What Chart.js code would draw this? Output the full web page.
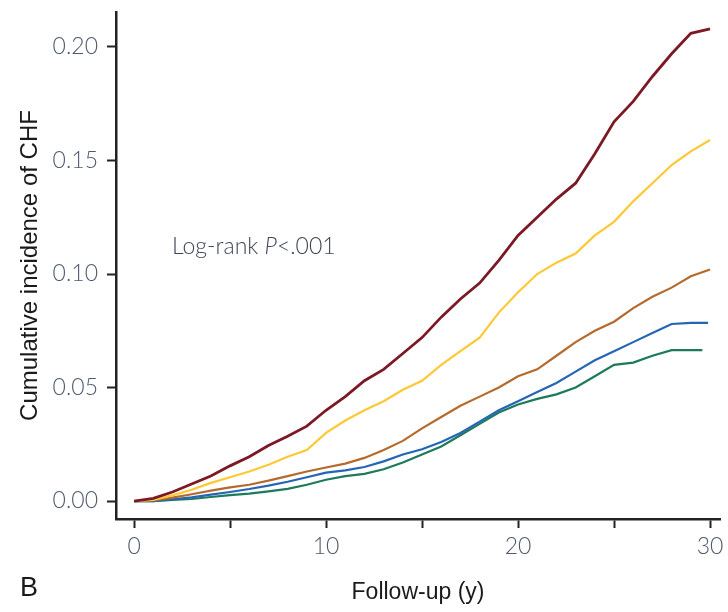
<!DOCTYPE html>
<html>
<head>
<meta charset="utf-8">
<script src="https://cdn.jsdelivr.net/npm/chart.js@4"></script>
<style>
  html, body { margin: 0; padding: 0; background: #fff; }
  #wrap { width: 728px; height: 612px; }
</style>
</head>
<body>
<div id="wrap"><canvas id="chf"></canvas></div>
<script>
// --- data ---
const years = [0,1,2,3,4,5,6,7,8,9,10,11,12,13,14,15,16,17,18,19,20,21,22,23,24,25,26,27,28,29,30];
const yearsBlue = [0,1,2,3,4,5,6,7,8,9,10,11,12,13,14,15,16,17,18,19,20,21,22,23,24,25,26,27,28,29,29.9];
const yearsGreen = [0,1,2,3,4,5,6,7,8,9,10,11,12,13,14,15,16,17,18,19,20,21,22,23,24,25,26,27,28,29,29.6];

const redVals = [0,0.0012,0.004,0.0075,0.011,0.0155,0.0195,0.0245,0.0285,0.033,0.040,0.046,0.053,0.058,0.065,0.072,0.081,0.089,0.096,0.106,0.117,0.125,0.133,0.140,0.153,0.167,0.176,0.187,0.197,0.206,0.208];
const yellowVals = [0,0.0005,0.0025,0.005,0.008,0.0105,0.013,0.016,0.0195,0.0225,0.030,0.0355,0.040,0.044,0.049,0.053,0.060,0.066,0.072,0.083,0.092,0.100,0.105,0.109,0.117,0.123,0.132,0.140,0.148,0.154,0.159];
const brownVals = [0,0.0003,0.0015,0.003,0.0046,0.006,0.0072,0.009,0.011,0.013,0.0148,0.0165,0.019,0.0225,0.0265,0.032,0.037,0.042,0.046,0.050,0.055,0.058,0.064,0.070,0.075,0.079,0.085,0.090,0.094,0.099,0.102];
const blueVals = [0,0,0.0008,0.0016,0.0028,0.004,0.0053,0.0068,0.0085,0.0105,0.0125,0.0135,0.015,0.0175,0.0205,0.0228,0.026,0.030,0.035,0.040,0.044,0.048,0.052,0.057,0.062,0.066,0.070,0.074,0.078,0.0785,0.0785];
const greenVals = [0,0,0.0005,0.0009,0.0018,0.0026,0.0033,0.0043,0.0054,0.0072,0.0094,0.011,0.012,0.014,0.017,0.0205,0.024,0.029,0.034,0.039,0.0425,0.045,0.047,0.050,0.055,0.060,0.061,0.064,0.0665,0.0665,0.0665];

const xTicks = [0,5,10,15,20,25,30];
const yTicks = [0,0.05,0.10,0.15,0.20];

const TICK_COLOR = '#4f5a6e';
const AXIS_COLOR = '#222222';

function pts(xs, ys) {
    return xs.map((x, i) => ({ x: x, y: ys[i] }));
}

function series(xs, ys, color, width) {
    return {
        data: pts(xs, ys),
        borderColor: color,
        borderWidth: width,
        pointRadius: 0,
        tension: 0,
        fill: false
    };
}

// 注記テキストと "B" ラベル
const notes = {
    id: 'notes',
    afterDraw(chart) {
        const c = chart.ctx;
        const xs = chart.scales.x, ys = chart.scales.y;
        c.save();
        c.fillStyle = '#3d4656';
        c.textBaseline = 'middle';
        c.textAlign = 'left';
        let px = xs.getPixelForValue(1.98);
        const py = ys.getPixelForValue(0.112);
        const parts = [['Log-rank ', 'normal'], ['P', 'italic'], ['<.001', 'normal']];
        parts.forEach(([t, st]) => {
            c.font = st + ' 300 23px Lato, "Open Sans", sans-serif';
            c.fillText(t, px, py);
            px += c.measureText(t).width;
        });
        c.fillStyle = '#1a1a1a';
        c.font = 'normal 27px "Liberation Sans", Arial, sans-serif';
        c.fillText('B', 20, 589);
        c.restore();
    }
};

new Chart(document.getElementById('chf'), {
    type: 'line',
    data: {
        datasets: [
            series(years, redVals, '#7b1a24', 2.8),
            series(years, yellowVals, '#fcc934', 2.2),
            series(years, brownVals, '#b56a2c', 2.2),
            series(yearsBlue, blueVals, '#2465b5', 2.2),
            series(yearsGreen, greenVals, '#1d7a5a', 2.2)
        ]
    },
    options: {
        responsive: true,
        maintainAspectRatio: false,
        animation: false,
        layout: { padding: { top: 12, right: 8, left: 0, bottom: 0 } },
        plugins: {
            legend: { display: false },
            tooltip: { enabled: false }
        },
        scales: {
            x: {
                type: 'linear',
                min: -0.94,
                max: 30.52,
                afterBuildTicks: s => { s.ticks = xTicks.map(v => ({ value: v })); },
                afterFit: s => { s.height = 93; s.paddingLeft = 0; s.paddingRight = 0; },
                ticks: {
                    autoSkip: false,
                    maxRotation: 0,
                    padding: 5,
                    color: TICK_COLOR,
                    font: { family: 'Lato, "Open Sans", sans-serif', size: 23, weight: 300 },
                    callback: v => (v % 10 === 0 ? String(v) : '')
                },
                grid: {
                    drawOnChartArea: false,
                    drawTicks: true,
                    tickLength: 9,
                    tickWidth: 2,
                    tickColor: AXIS_COLOR
                },
                border: { display: true, color: AXIS_COLOR, width: 2.5 },
                title: {
                    display: true,
                    text: 'Follow-up (y)',
                    color: '#1a1a1a',
                    font: { family: '"Liberation Sans", Arial, sans-serif', size: 23, weight: 'normal' },
                    padding: { top: 0, bottom: 6 }
                }
            },
            y: {
                type: 'linear',
                min: -0.0079,
                max: 0.2154,
                afterBuildTicks: s => { s.ticks = yTicks.map(v => ({ value: v })); },
                afterFit: s => { s.width = 116; s.paddingTop = 0; s.paddingBottom = 0; },
                ticks: {
                    padding: 9,
                    color: TICK_COLOR,
                    font: { family: 'Lato, "Open Sans", sans-serif', size: 23, weight: 300 },
                    callback: v => v.toFixed(2)
                },
                grid: {
                    drawOnChartArea: false,
                    drawTicks: true,
                    tickLength: 9,
                    tickWidth: 2,
                    tickColor: AXIS_COLOR
                },
                border: { display: true, color: AXIS_COLOR, width: 2.5 },
                title: {
                    display: true,
                    text: 'Cumulative incidence of CHF',
                    color: '#1a1a1a',
                    font: { family: '"Liberation Sans", Arial, sans-serif', size: 24, weight: 'normal' },
                    padding: { top: 16, bottom: 0 }
                }
            }
        }
    },
    plugins: [notes]
});
</script>
</body>
</html>
